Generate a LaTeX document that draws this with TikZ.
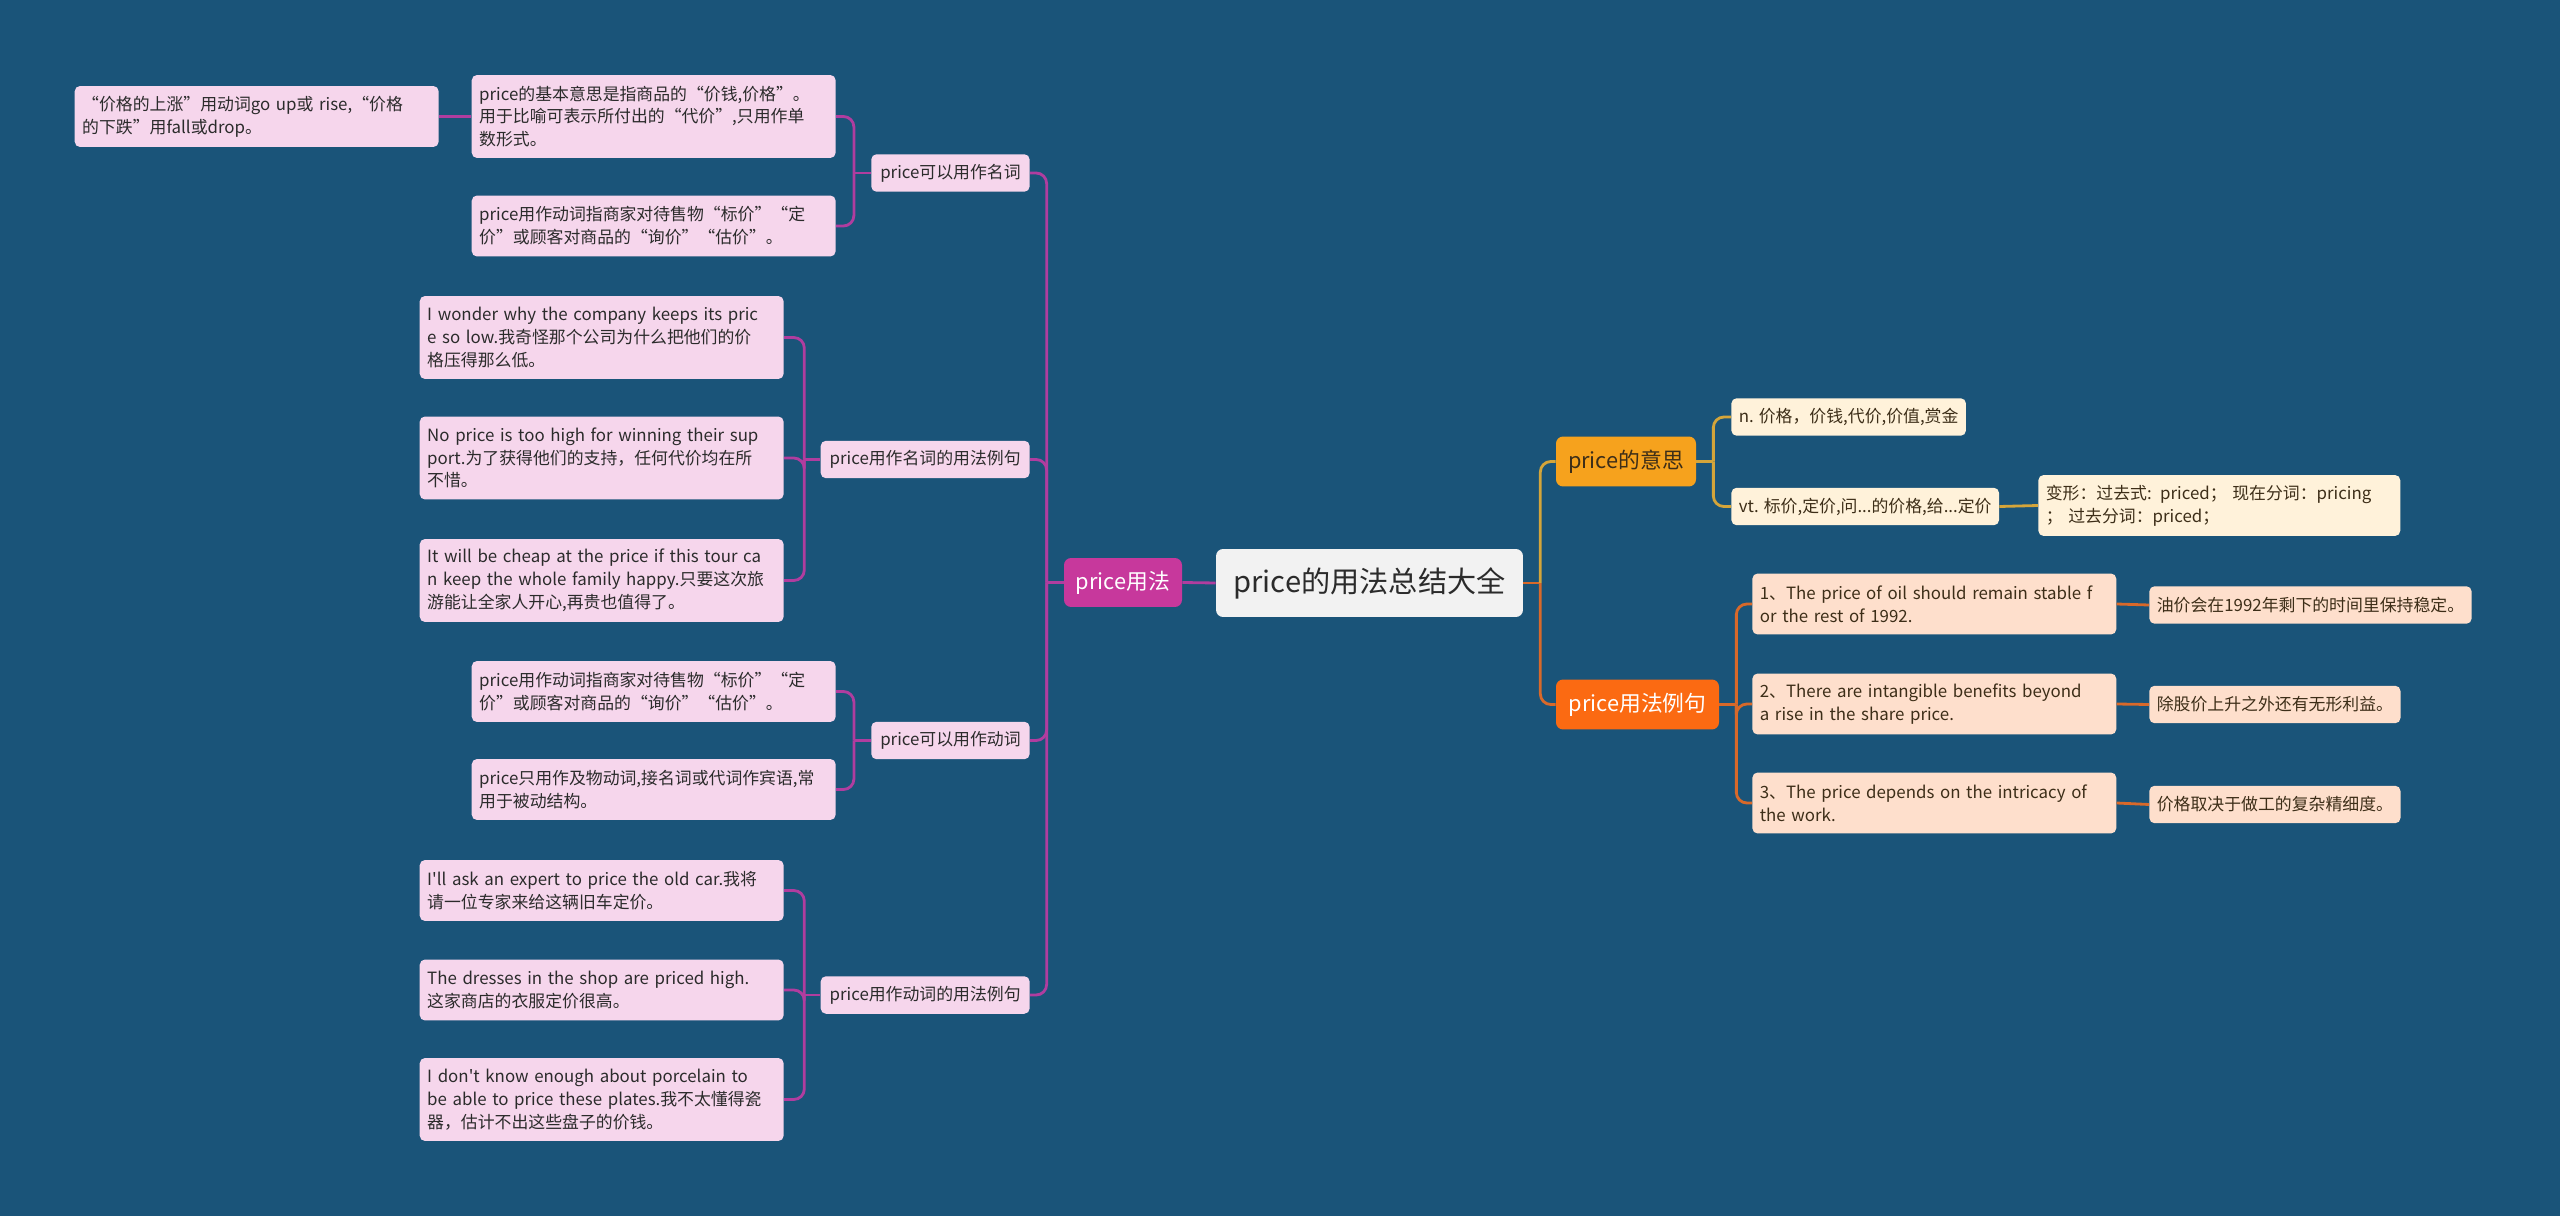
\documentclass[tikz,border=0pt]{standalone}
\usepackage{fontspec}
\setmainfont{Noto Sans CJK SC}[Ligatures=TeXOff]
\usetikzlibrary{positioning}

\begin{document}
\begin{tikzpicture}[x=0.02cm,y=-0.02cm,font=\fontsize{9.6}{13}\selectfont,
  box/.style={rounded corners=3pt,inner xsep=0.15cm,inner ysep=0.08cm,minimum height=0.75cm,text=ink},
  pk/.style={box,fill=pinkbg},
  cr/.style={box,fill=creambg,text=brownink},
  pc/.style={box,fill=peachbg,text=brownink},
  sub/.style={inner xsep=0.18cm},
  wide/.style={text width=#1,align=left},
  two/.style={minimum height=1.22cm},
  three/.style={minimum height=1.66cm},
  topic/.style={rounded corners=4pt,inner sep=0.1cm,font=\fontsize{12.4}{15}\selectfont,minimum height=1.0cm},
  plk/.style={draw=plink,line width=1.6pt,rounded corners=6pt},
  glk/.style={draw=glink,line width=1.6pt,rounded corners=6pt},
  olk/.style={draw=olink,line width=1.6pt,rounded corners=6pt}]
\definecolor{bgc}{HTML}{1A5479}
\definecolor{ink}{HTML}{2B2B2B}
\definecolor{brownink}{HTML}{3D2E18}
\definecolor{pinkbg}{HTML}{F6D6EC}
\definecolor{creambg}{HTML}{FFF2DA}
\definecolor{peachbg}{HTML}{FEDFCC}
\definecolor{rootbg}{HTML}{F2F2F2}
\definecolor{magenta}{HTML}{C7389C}
\definecolor{gold}{HTML}{F6A21D}
\definecolor{redorange}{HTML}{FB6A12}
\definecolor{plink}{HTML}{B03D9F}
\definecolor{glink}{HTML}{D4A53A}
\definecolor{olink}{HTML}{D8692A}
\fill[bgc] (0,0) rectangle (2560,1216);
\node[rounded corners=4pt,fill=rootbg,text=ink,font=\fontsize{16.6}{20}\selectfont,minimum width=6.14cm,minimum height=1.36cm] (root) at (1369.5,583) {price的用法总结大全};
\node[topic,fill=magenta,text=white,minimum width=2.36cm,minimum height=0.98cm] (usage) at (1123,582.5) {price用法};
\node[topic,fill=gold,text=brownink,minimum width=2.8cm] (meaning) at (1626,461.5) {price的意思};
\node[topic,fill=redorange,text=white,minimum width=3.26cm] (exs) at (1637.5,704.5) {price用法例句};
\node[pk,sub,anchor=east] (noun) at (1030,173) {price可以用作名词};
\node[pk,sub,anchor=east] (nounex) at (1030,459.5) {price用作名词的用法例句};
\node[pk,sub,anchor=east] (verb) at (1030,740.5) {price可以用作动词};
\node[pk,sub,anchor=east] (verbex) at (1030,995) {price用作动词的用法例句};
\node[pk,three,wide=6.98cm,anchor=east] (nb) at (836,116.5)
  {price的基本意思是指商品的“价钱,价格”。\\用于比喻可表示所付出的“代价”,只用作单\\数形式。};
\node[pk,two,wide=6.98cm,anchor=east] (nv) at (836,226)
  {price用作动词指商家对待售物“标价”“定\\价”或顾客对商品的“询价”“估价”。};
\node[pk,two,wide=6.98cm,anchor=east] (rise) at (439,116.5)
  {“价格的上涨”用动词go up或 rise,“价格\\的下跌”用fall或drop。};
\node[pk,three,wide=6.98cm,anchor=east] (ex1) at (784,337.5)
  {I wonder why the company keeps its pric\\e so low.我奇怪那个公司为什么把他们的价\\格压得那么低。};
\node[pk,three,wide=6.98cm,anchor=east] (ex2) at (784,458)
  {No price is too high for winning their sup\\port.为了获得他们的支持，任何代价均在所\\不惜。};
\node[pk,three,wide=6.98cm,anchor=east] (ex3) at (784,580.5)
  {It will be cheap at the price if this tour ca\\n keep the whole family happy.只要这次旅\\游能让全家人开心,再贵也值得了。};
\node[pk,two,wide=6.98cm,anchor=east] (vb1) at (836,691.5)
  {price用作动词指商家对待售物“标价”“定\\价”或顾客对商品的“询价”“估价”。};
\node[pk,two,wide=6.98cm,anchor=east] (vb2) at (836,789.5)
  {price只用作及物动词,接名词或代词作宾语,常\\用于被动结构。};
\node[pk,two,wide=6.98cm,anchor=east] (vx1) at (784,890.5)
  {I'll ask an expert to price the old car.我将\\请一位专家来给这辆旧车定价。};
\node[pk,two,wide=6.98cm,anchor=east] (vx2) at (784,990)
  {The dresses in the shop are priced high.\\这家商店的衣服定价很高。};
\node[pk,three,wide=6.98cm,anchor=east] (vx3) at (784,1099.5)
  {I don't know enough about porcelain to\\be able to price these plates.我不太懂得瓷\\器，估计不出这些盘子的价钱。};
\node[cr,anchor=west] (mn) at (1731,417) {n. 价格，价钱,代价,价值,赏金};
\node[cr,anchor=west] (mv) at (1731,506.5) {vt. 标价,定价,问...的价格,给...定价};
\node[cr,two,wide=6.94cm,anchor=west] (form) at (2038,505.5)
  {变形：过去式: priced；  现在分词：pricing\\；  过去分词：priced；};
\node[pc,two,wide=6.98cm,anchor=west] (e1) at (1752,604)
  {1、The price of oil should remain stable f\\or the rest of 1992.};
\node[pc,two,wide=6.98cm,anchor=west] (e2) at (1752,704)
  {2、There are intangible benefits beyond\\a rise in the share price.};
\node[pc,two,wide=6.98cm,anchor=west] (e3) at (1752,803)
  {3、The price depends on the intricacy of\\the work.};
\node[pc,anchor=west] (t1) at (2149,605) {油价会在1992年剩下的时间里保持稳定。};
\node[pc,anchor=west] (t2) at (2149,704.5) {除股价上升之外还有无形利益。};
\node[pc,anchor=west] (t3) at (2149,804.5) {价格取决于做工的复杂精细度。};
\draw[plk] (root.west) -- (usage.east);
\draw[plk] (usage.west) -- ++(-17,0) coordinate (usp);
\draw[plk] (usp) |- (noun.east);
\draw[plk] (usp) |- (nounex.east);
\draw[plk] (usp) |- (verb.east);
\draw[plk] (usp) |- (verbex.east);
\draw[plk] (noun.west) -- ++(-17,0) coordinate (nsp);
\draw[plk] (nsp) |- (nb.east);
\draw[plk] (nsp) |- (nv.east);
\draw[plk] (nb.west) -- (rise.east);
\draw[plk] (nounex.west) -- ++(-16,0) coordinate (nxsp);
\draw[plk] (nxsp) |- (ex1.east);
\draw[plk] (nxsp) |- (ex2.east);
\draw[plk] (nxsp) |- (ex3.east);
\draw[plk] (verb.west) -- ++(-17,0) coordinate (vsp);
\draw[plk] (vsp) |- (vb1.east);
\draw[plk] (vsp) |- (vb2.east);
\draw[plk] (verbex.west) -- ++(-16,0) coordinate (vxsp);
\draw[plk] (vxsp) |- (vx1.east);
\draw[plk] (vxsp) |- (vx2.east);
\draw[plk] (vxsp) |- (vx3.east);
\draw[olk] (root.east) -- ++(17,0) coordinate (rsp);
\draw[glk] (rsp) |- (meaning.west);
\draw[olk] (rsp) |- (exs.west);
\draw[glk] (meaning.east) -- ++(17,0) coordinate (msp);
\draw[glk] (msp) |- (mn.west);
\draw[glk] (msp) |- (mv.west);
\draw[glk] (mv.east) -- (form.west);
\draw[olk] (exs.east) -- ++(17,0) coordinate (xsp);
\draw[olk] (xsp) |- (e1.west);
\draw[olk] (xsp) |- (e2.west);
\draw[olk] (xsp) |- (e3.west);
\draw[olk] (e1.east) -- (t1.west);
\draw[olk] (e2.east) -- (t2.west);
\draw[olk] (e3.east) -- (t3.west);
\end{tikzpicture}
\end{document}
